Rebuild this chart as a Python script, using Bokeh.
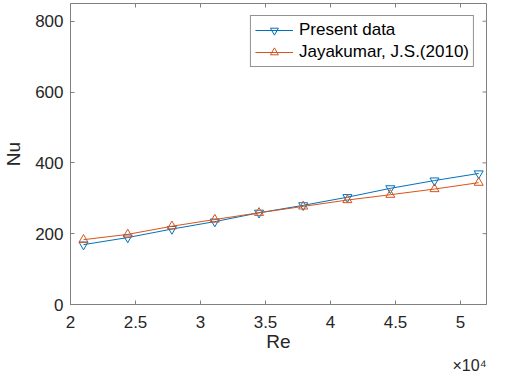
import math
from bokeh.plotting import figure
from bokeh.models import FixedTicker, Range1d, Legend, LegendItem, Title
from bokeh.embed import file_html
from bokeh.resources import INLINE

re_values = [21000, 24400, 27800, 31100, 34500, 37900, 41300, 44600, 48000, 51400]
nu_present = [169, 189, 213, 234, 259, 280, 303, 328, 350, 370]
nu_jayakumar = [183, 198, 221, 240, 259, 277, 295, 310, 326, 344]

x_min, x_max = 20000, 52000
y_min, y_max = 0, 850
x_ticks = [20000, 25000, 30000, 35000, 40000, 45000, 50000]
x_tick_labels = ["2", "2.5", "3", "3.5", "4", "4.5", "5"]
y_ticks = [0, 200, 400, 600, 800]
x_multiplier = "\u00d710\u2074"

series_names = ["Present data", "Jayakumar, J.S.(2010)"]
BLUE = "#0072BD"
ORANGE = "#D95319"
TXT = "#262626"
AX = "#808080"
FONT = "Liberation Sans"

p = figure(width=489, height=373, output_backend="svg", toolbar_location=None,
           x_range=Range1d(x_min, x_max), y_range=Range1d(y_min, y_max),
           min_border_left=70, min_border_right=3, min_border_top=3, min_border_bottom=58)
p.xgrid.visible = False
p.ygrid.visible = False
p.outline_line_color = AX
p.outline_line_width = 1
p.background_fill_color = "white"
p.border_fill_color = "white"

l1 = p.line(re_values, nu_present, line_color=BLUE, line_width=1)
m1 = p.scatter(re_values, nu_present, marker="inverted_triangle", size=9,
               fill_color=None, line_color=BLUE, line_width=1)
l2 = p.line(re_values, nu_jayakumar, line_color=ORANGE, line_width=1)
m2 = p.scatter(re_values, nu_jayakumar, marker="triangle", size=9,
               fill_color=None, line_color=ORANGE, line_width=1)

# box ticks on top and right edges (inward)
p.ray(x=x_ticks, y=[y_max] * len(x_ticks), length=4, length_units="screen",
      angle=-math.pi / 2, line_color=AX, line_width=1)
p.ray(x=[x_max] * len(y_ticks), y=y_ticks, length=4, length_units="screen",
      angle=math.pi, line_color=AX, line_width=1)

def style_axis(ax):
    ax.axis_line_color = AX
    ax.major_tick_line_color = AX
    ax.major_tick_in = 4
    ax.major_tick_out = 0
    ax.minor_tick_line_color = None
    ax.major_label_text_font = FONT
    ax.major_label_text_font_size = "17px"
    ax.major_label_text_color = TXT
    ax.axis_label_text_font = FONT
    ax.axis_label_text_font_size = "19px"
    ax.axis_label_text_font_style = "normal"
    ax.axis_label_text_color = TXT

xa = p.xaxis[0]
style_axis(xa)
xa.ticker = FixedTicker(ticks=x_ticks)
xa.major_label_overrides = {t: l for t, l in zip(x_ticks, x_tick_labels)}
xa.major_label_standoff = 11
xa.axis_label = "Re"
xa.axis_label_standoff = 0

ya = p.yaxis[0]
style_axis(ya)
ya.ticker = FixedTicker(ticks=y_ticks)
ya.major_label_standoff = 7
ya.axis_label = "Nu"
ya.axis_label_standoff = 8

legend = Legend(items=[LegendItem(label=series_names[0], renderers=[l1, m1]),
                       LegendItem(label=series_names[1], renderers=[l2, m2])],
                location="top_right", margin=12, padding=4, spacing=2,
                glyph_width=38, glyph_height=20, label_height=20, label_standoff=6,
                label_text_font=FONT, label_text_font_size="17px", label_text_color="black",
                border_line_color="#262626", border_line_width=1,
                background_fill_color="white", background_fill_alpha=1)
p.add_layout(legend)

p.add_layout(Title(text=x_multiplier, align="right", standoff=0, text_font=FONT,
                   text_font_size="16px", text_font_style="normal", text_color=TXT), "below")

open("out.html", "w").write(file_html(p, INLINE))
